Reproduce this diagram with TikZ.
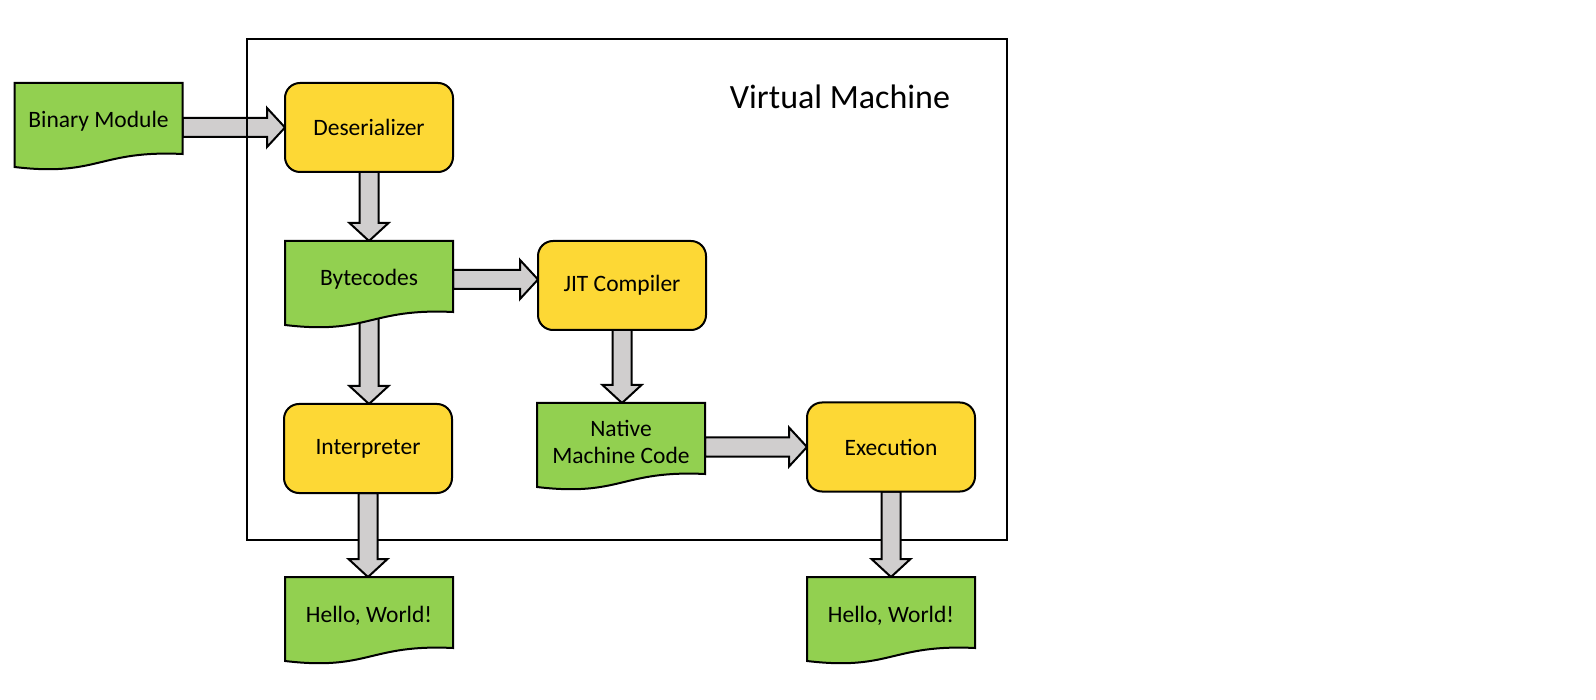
\documentclass[tikz,border=0pt]{standalone}
\usepackage{fontspec}
\setmainfont{Carlito}
\usetikzlibrary{calc}

\definecolor{docgreen}{HTML}{92D050}
\definecolor{procyellow}{HTML}{FDD835}
\definecolor{flowgrey}{HTML}{D0CECE}

\pgfdeclarelayer{lowarrow}
\pgfdeclarelayer{vmlayer}
\pgfdeclarelayer{arrowlayer}
\pgfdeclarelayer{doclayer}
\pgfsetlayers{lowarrow,vmlayer,arrowlayer,doclayer,main}

\tikzset{
  boxfont/.style={font=\fontsize{23.5}{27}\selectfont},
  procbox/.style={draw=black, line width=2pt, fill=procyellow, rounded corners=15pt,
    minimum width=168pt, minimum height=89pt, outer sep=0pt, inner sep=0pt,
    align=center, boxfont},
  docnode/.style={minimum width=168pt, minimum height=77pt, outer sep=0pt,
    inner sep=0pt, align=center, boxfont},
  docline/.style={draw=black, line width=2pt, fill=docgreen, line join=miter},
  flowarrow/.style={draw=black, line width=2pt, fill=flowgrey, line join=miter},
  vmframe/.style={draw=black, line width=2pt, minimum width=760pt,
    minimum height=501pt, outer sep=0pt, inner sep=0pt},
}

% document shape: straight top and sides, wavy bottom edge
\newcommand\docshape[1]{%
  \path[docline] (#1.north west) -- (#1.north east) -- ($(#1.south east)+(0,-6)$)
    .. controls ($(#1.south)+(0,-10)$) and ($(#1.south)+(0,17)$) ..
    ($(#1.south west)+(0,7)$) -- cycle;}

% block arrow from #1 to #2 (tip at #2)
\newcommand\flow[2]{%
  \draw[flowarrow] let \p1=#1, \p2=#2,
      \n1={atan2(\y2-\y1,\x2-\x1)}, \n2={veclen(\x2-\x1,\y2-\y1)-18} in
    ($(\p1)+(\n1+90:9.5pt)$)
    -- ($(\p1)+(\n1:\n2)+(\n1+90:9.5pt)$)
    -- ($(\p1)+(\n1:\n2)+(\n1+90:19.5pt)$)
    -- (\p2)
    -- ($(\p1)+(\n1:\n2)+(\n1-90:19.5pt)$)
    -- ($(\p1)+(\n1:\n2)+(\n1-90:9.5pt)$)
    -- ($(\p1)+(\n1-90:9.5pt)$) -- cycle;}

\begin{document}
\begin{tikzpicture}[x=1pt, y=-1pt]
  \useasboundingbox (0,0) rectangle (1596,700);

  % processing stages
  \node[procbox] (des) at (369,127.5) {Deserializer};
  \node[procbox] (jit) at (622,285.5) {JIT Compiler};
  \node[procbox] (int) at (368,448.5) {Interpreter};
  \node[procbox] (exe) at (891,447)   {Execution};

  % data documents
  \node[docnode] (bin) at (98.5,121.5) {Binary Module};
  \node[docnode] (byt) at (369,279.5)  {Bytecodes};
  \node[docnode] (nat) at (621,441.5)  {Native\\Machine Code};
  \node[docnode] (hw1) at (369,615.5)  {Hello, World!};
  \node[docnode] (hw2) at (891,615.5)  {Hello, World!};

  \begin{pgfonlayer}{doclayer}
    \docshape{bin}
    \docshape{byt}
    \docshape{nat}
    \docshape{hw1}
    \docshape{hw2}
  \end{pgfonlayer}

  % virtual machine boundary
  \begin{pgfonlayer}{vmlayer}
    \node[vmframe] (vm) at (627,289.5) {};
  \end{pgfonlayer}
  \node[font=\fontsize{34}{40}\selectfont] (vmlabel) at (840,97) {Virtual Machine};

  % data flow
  \begin{pgfonlayer}{lowarrow}
    \flow{(bin.east |- des.west)}{(des.west)}
  \end{pgfonlayer}
  \begin{pgfonlayer}{arrowlayer}
    \flow{(des.south)}{(des.south |- byt.north)}
    \flow{(byt.east)}{(byt.east -| jit.west)}
    \flow{(byt.south)}{(byt.south |- int.north)}
    \flow{(jit.south)}{(jit.south |- nat.north)}
    \flow{(nat.east |- exe.west)}{(exe.west)}
    \flow{(int.south)}{(int.south |- hw1.north)}
    \flow{(exe.south)}{(exe.south |- hw2.north)}
  \end{pgfonlayer}
\end{tikzpicture}
\end{document}
